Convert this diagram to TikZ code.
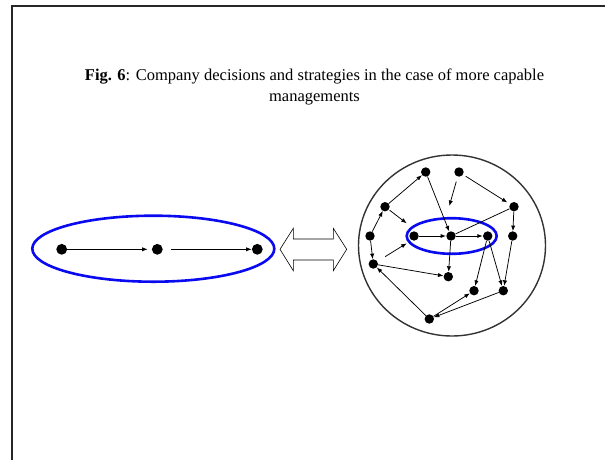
\documentclass[tikz,border=0pt]{standalone}
\usepackage{fontspec}
\setmainfont{Liberation Serif}
\usetikzlibrary{arrows.meta}
\definecolor{ringblue}{RGB}{10,10,240}
\tikzset{
  dot/.style={circle,fill=black,inner sep=0pt,minimum size=9.4pt},
  bigdot/.style={circle,fill=black,inner sep=0pt,minimum size=10.8pt},
  arr/.style={-{Latex[length=5.5pt,width=4.2pt]},line width=0.75pt},
  link/.style={line width=0.75pt},
  ring/.style={draw=ringblue,line width=2.6pt},
  frame/.style={draw=black!85,line width=1.6pt},
  titletext/.style={font=\fontsize{16.5}{20.5}\selectfont,align=center,inner sep=0pt}
}
\begin{document}
\begin{tikzpicture}[x=1pt,y=-1pt]
\useasboundingbox (0,0) rectangle (605,459);

% page frame (only the top and left edges fall inside the picture)
\draw[frame] (11.7,470) -- (11.7,6) -- (620,6);

% title
\node[titletext,anchor=base] (title) at (314.5,80.7)
  {\textbf{Fig. 6}: Company decisions and strategies in the case of more capable};
\node[titletext,anchor=base] (title2) at (314.5,101.2) {managements};

% ---- left: a single chain of decisions ----
\draw[ring] (153.3,248.7) ellipse [x radius=121,y radius=33];
\node[bigdot] (l1) at (61.7,249.3) {};
\node[bigdot] (l2) at (157.3,249.3) {};
\node[bigdot] (l3) at (257.3,249.3) {};
\draw[arr,shorten >=4pt] (l1) -- (l2);
\draw[arr,shorten <=8.5pt] (l2) -- (l3);

% ---- double arrow between the two views ----
\draw[line width=0.6pt,fill=white] (280,249.3) -- (293.3,228.3) -- (293.3,239)
  -- (333.3,239) -- (333.3,228.3) -- (346.7,249.3) -- (333.3,270.7)
  -- (333.3,260) -- (293.3,260) -- (293.3,270.7) -- cycle;

% ---- right: a network of decisions ----
\draw[draw=black!80,line width=1.4pt] (452,245.5) ellipse [x radius=93.5,y radius=90.5];
\draw[ring] (451.7,236) ellipse [x radius=45,y radius=17.8];

\node[dot] (A) at (425.7,172) {};
\node[dot] (B) at (459,172) {};
\node[dot] (C) at (385,206.7) {};
\node[dot] (D) at (514,206.7) {};
\node[dot] (E) at (370,236) {};
\node[dot] (F) at (414,236) {};
\node[dot] (G) at (451,236) {};
\node[dot] (H) at (487.7,236) {};
\node[dot] (I) at (512.7,236) {};
\node[dot] (J) at (373.3,264) {};
\node[dot] (K) at (448.3,276.7) {};
\node[dot] (L) at (474,290.7) {};
\node[dot] (M) at (503.3,290.7) {};
\node[dot] (N) at (429.3,319) {};

\coordinate (bG) at (449.3,206);
\coordinate (cF) at (406.7,223.3);
\coordinate (jF) at (406.7,243.3);

\draw[arr] (C) -- (A);
\draw[arr] (A) -- (G);
\draw[arr,shorten <=5pt] (B) -- (bG);
\draw[arr,shorten <=3pt,shorten >=3pt] (B) -- (D);
\draw[link] (G) -- (D);
\draw[arr] (D) -- (I);
\draw[arr,shorten <=1pt] (C) -- (cF);
\draw[arr] (E) -- (C);
\draw[arr] (E) -- (J);
\draw[arr,shorten <=9pt] (J) -- (jF);
\draw[arr,line width=1pt] (F) -- (G);
\draw[arr,line width=1pt] (G) -- (H);
\draw[arr] (G) -- (K);
\draw[arr] (J) -- (K);
\draw[arr] (H) -- (L);
\draw[arr] (H) -- (M);
\draw[arr] (I) -- (M);
\draw[arr] (N) -- (L);
\draw[arr] (M) -- (N);
\draw[arr] (N) -- (J);
\end{tikzpicture}
\end{document}
